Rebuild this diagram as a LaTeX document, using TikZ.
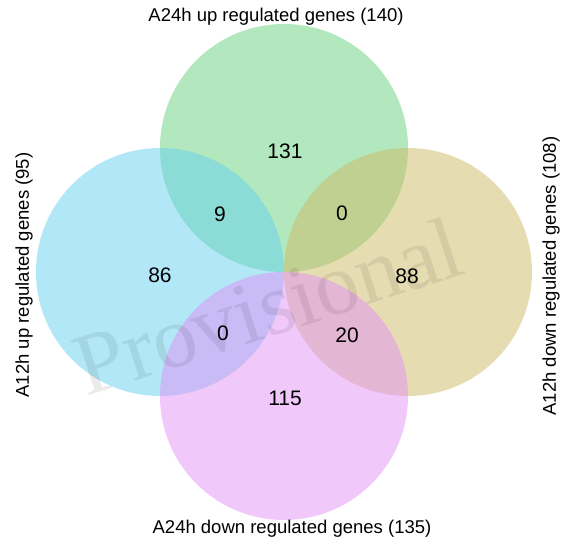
\documentclass[tikz,border=0pt]{standalone}
\usepackage{fontspec}
\setmainfont{Liberation Sans}
\newfontfamily\stampfont{Liberation Serif}
\usepackage{xcolor}
\usetikzlibrary{positioning}
\definecolor{upAfour}{HTML}{67CF7B}
\definecolor{upAtwo}{HTML}{65CFEF}
\definecolor{downAtwo}{HTML}{CDB965}
\definecolor{downAfour}{HTML}{E191F5}

\begin{document}
\begin{tikzpicture}[x=1pt, y=-1pt,
  set/.style={circle, minimum size=248pt, inner sep=0pt, fill opacity=0.5},
  count/.style={font=\fontsize{21}{21}\selectfont},
  setlabel/.style={font=\fontsize{18.5}{18.5}\selectfont}]
\useasboundingbox (0,0) rectangle (565,548);
\node (upfour) [set, fill=upAfour] at (284,148) {};
\node (uptwo) [set, fill=upAtwo] at (160,272) {};
\node (downtwo) [set, fill=downAtwo] at (408,272) {};
\node (downfour) [set, fill=downAfour] at (284,396) {};

\node (stamp) [font=\stampfont\fontsize{88}{88}\selectfont, text=black, text opacity=0.08, rotate=18] at (268,306) {Provisional};

\node (lupfour) [setlabel] at (276,17) {A24h up regulated genes (140)};
\node (luptwo) [setlabel, rotate=90] at (24,275) {A12h up regulated genes (95)};
\node (ldowntwo) [setlabel, rotate=90] at (551,276) {A12h down regulated genes (108)};
\node (ldownfour) [setlabel] at (292,529) {A24h down regulated genes (135)};

\node (nupfour) [count] at (285,151) {131};
\node (nupup) [count] at (220,214) {9};
\node (nupdown) [count] at (342,213) {0};
\node (nuptwo) [count] at (160,275) {86};
\node (ndowntwo) [count] at (407,276) {88};
\node (nupdownb) [count] at (223,333) {0};
\node (ndowndown) [count] at (347,335) {20};
\node (ndownfour) [count] at (285,398) {115};
\end{tikzpicture}
\end{document}
